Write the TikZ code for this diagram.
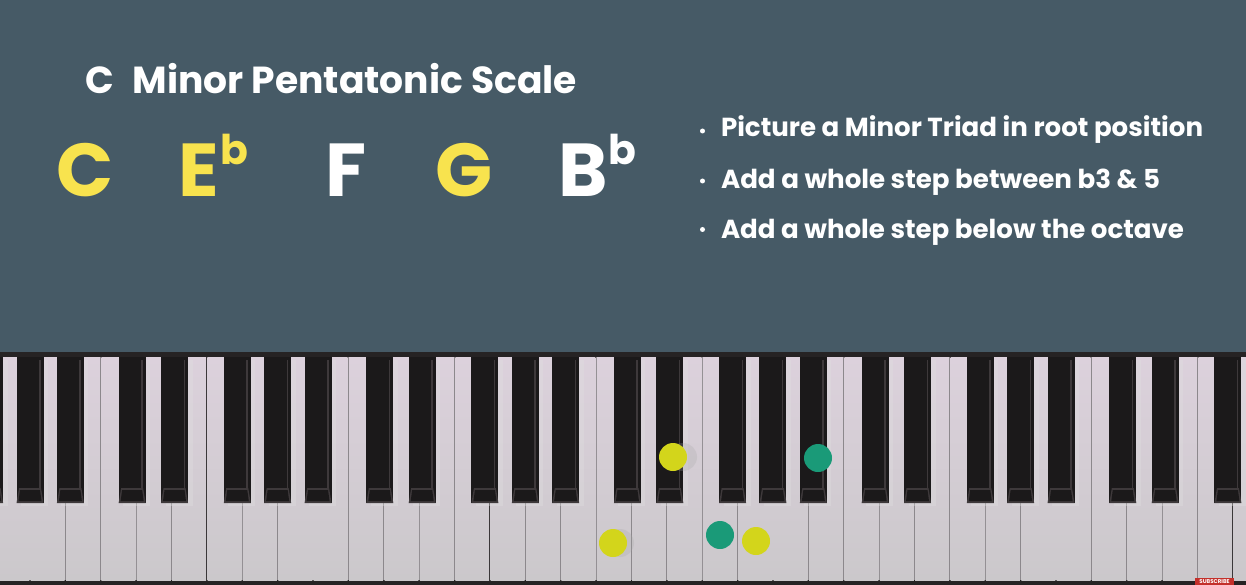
\documentclass[tikz,border=0pt]{standalone}
\usepackage{fontspec}
\setmainfont{Poppins}
\usepackage{graphicx}
\definecolor{bg}{HTML}{465A66}
\definecolor{ylw}{HTML}{F8E34E}
\definecolor{dotY}{HTML}{D3D51B}
\definecolor{dotG}{HTML}{1A9A78}
\definecolor{blk}{HTML}{1B191A}
\definecolor{blkedge}{HTML}{3E393B}
\definecolor{kbdark}{HTML}{262324}
\definecolor{wtop}{HTML}{DCD1DC}
\definecolor{wbot}{HTML}{CBC8CB}
\definecolor{sep}{HTML}{8C888C}
\definecolor{subred}{HTML}{C4302B}
\tikzset{
  txt/.style={anchor=base west, inner sep=0pt, outer sep=0pt, font=\bfseries},
  bignote/.style={txt, font=\fontsize{75}{75}\selectfont\bfseries},
  flat/.style={txt, font=\fontsize{41}{41}\selectfont\bfseries},
  bullet/.style={circle, fill=white, inner sep=0pt, minimum size=5pt},
  keydot/.style={circle, inner sep=0pt, minimum size=28pt},
  dotshadow/.style={circle, inner sep=0pt, minimum size=28pt, fill=black!35, opacity=0.25}
}
\begin{document}
\begin{tikzpicture}[x=1pt,y=-1pt]
\useasboundingbox (0,0) rectangle (1246,585);
\clip (0,0) rectangle (1246,585);
% background
\fill[bg] (0,0) rectangle (1246,353);
\fill[kbdark] (0,352) rectangle (1246,585);
% white keys
\foreach \k in {-1,...,34}{
  \pgfmathsetmacro\xa{30+35.38*\k}
  \pgfmathsetmacro\xb{30+35.38*(\k+1)}
  \shade[top color=wtop, bottom color=wbot] (\xa+0.7,357) rectangle (\xb-0.7,580);
  \draw[sep, line width=0.8pt] (\xb,357) -- (\xb,580);
}
% black keys
\foreach \k/\o in {-1/-5,0/0,1/5,3/-4,4/3,6/-5,7/0,8/5,10/-4,11/3,13/-5,14/0,15/5,
  17/-4,18/3,20/-5,21/0,22/5,24/-4,25/3,27/-5,28/0,29/5,31/-4,32/3,34/-5}{
  \pgfmathsetmacro\xc{30+35.38*\k+\o}
  \fill[black!12, opacity=0.35] (\xc-9,360) rectangle (\xc+18,506);
  \fill[blk] (\xc-13.5,357) rectangle (\xc+13.5,503);
  \fill[blkedge] (\xc+9,360) rectangle (\xc+10.5,488);
  \fill[blkedge] (\xc-11,488) -- (\xc+11,488) -- (\xc+13.5,503) -- (\xc-13.5,503) -- cycle;
  \fill[blk] (\xc-10,490) -- (\xc+10,490) -- (\xc+11.5,501) -- (\xc-11.5,501) -- cycle;
}
\fill[kbdark] (0,352) rectangle (1246,357);
% dots
\node[dotshadow] (sh1) at (683,457) {};
\node[dotshadow] (sh2) at (620,543) {};
\node[keydot, fill=dotY] (eb) at (673,457) {};
\node[keydot, fill=dotG] (bb) at (818,458) {};
\node[keydot, fill=dotY] (c) at (613,543) {};
\node[keydot, fill=dotG] (f) at (720,535) {};
\node[keydot, fill=dotY] (g) at (756,541) {};
% subscribe
\fill[subred] (1195,578) rectangle (1234,585);
\node[inner sep=0pt, text=white, font=\fontsize{5.5}{5.5}\selectfont\bfseries] (sub) at (1214.5,581.7) {SUBSCRIBE};
% title
\node[txt, text=white] (title) at (85,94) {\resizebox{492pt}{!}{C\hspace{0.5em}Minor Pentatonic Scale}};
% notes
\node[bignote, text=ylw] (nC) at (56,197) {C};
\node[bignote, text=ylw] (nE) at (178,197) {E};
\node[flat, text=ylw] (nEb) at (220,165) {b};
\node[bignote, text=white] (nF) at (325,197) {F};
\node[bignote, text=ylw] (nG) at (435,197) {G};
\node[bignote, text=white] (nB) at (558,197) {B};
\node[flat, text=white] (nBb) at (608,165) {b};
% bullets
\node[bullet] (b1) at (702.5,131) {};
\node[bullet] (b2) at (702.5,181) {};
\node[bullet] (b3) at (702.5,229.5) {};
\node[txt, text=white] (l1) at (721,137) {\resizebox{482pt}{!}{Picture a Minor Triad in root position}};
\node[txt, text=white] (l2) at (721,189) {\resizebox{439pt}{!}{Add a whole step between b3 \& 5}};
\node[txt, text=white] (l3) at (721,238) {\resizebox{463pt}{!}{Add a whole step below the octave}};
\end{tikzpicture}
\end{document}
